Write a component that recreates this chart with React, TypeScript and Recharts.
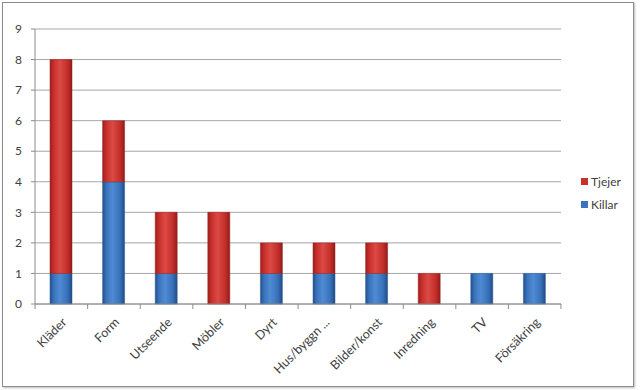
import React from 'react';
import { BarChart, Bar, XAxis, YAxis, CartesianGrid } from 'recharts';

const categories = ['Kläder', 'Form', 'Utseende', 'Möbler', 'Dyrt', 'Hus/byggn ...', 'Bilder/konst', 'Inredning', 'TV', 'Försäkring'];
const killar = [1, 4, 1, 0, 1, 1, 1, 0, 1, 1];
const tjejer = [7, 2, 2, 3, 1, 1, 1, 1, 0, 0];
const yTicks = [0, 1, 2, 3, 4, 5, 6, 7, 8, 9];

const data = categories.map((c, i) => ({ name: c, Killar: killar[i], Tjejer: tjejer[i] }));

const FONT = 'Lato, "Open Sans", sans-serif';
const BAND = 52.5;

const XTick = (props: any) => {
  const { x, y, payload, index, visibleTicksCount } = props;
  const y0 = y - 8;
  return (
    <g>
      <line x1={x - BAND / 2} x2={x - BAND / 2} y1={y0} y2={y0 + 5} stroke="#8c8c8c" />
      {index === visibleTicksCount - 1 && (
        <line x1={x + BAND / 2} x2={x + BAND / 2} y1={y0} y2={y0 + 5} stroke="#8c8c8c" />
      )}
      <text
        x={0}
        y={0}
        transform={`translate(${x + 3},${y + 8}) rotate(-45)`}
        textAnchor="end"
        dy="0.35em"
        fontSize={12.5}
        fontFamily={FONT}
        fill="#404040"
      >
        {payload.value}
      </text>
    </g>
  );
};

export default function App() {
  return (
    <div style={{ position: 'absolute', left: 0, top: 0, width: 640, height: 390, background: '#fff' }}>
      <div
        style={{
          position: 'absolute',
          left: 2,
          top: 2,
          width: 630,
          height: 383,
          border: '1px solid #8c8c8c',
          boxShadow: '1px 1px 2px #bbb',
        }}
      />
      <div style={{ position: 'absolute', left: 0, top: 0 }}>
        <BarChart width={640} height={390} data={data} margin={{ top: 29, right: 79, bottom: 0, left: 0 }} barSize={22}>
          <defs>
            <linearGradient id="gRed" x1="0" y1="0" x2="1" y2="0">
              <stop offset="0%" stopColor="#9e1f1c" />
              <stop offset="18%" stopColor="#c9302c" />
              <stop offset="45%" stopColor="#dc4a45" />
              <stop offset="80%" stopColor="#c22e2a" />
              <stop offset="100%" stopColor="#921b18" />
            </linearGradient>
            <linearGradient id="gBlue" x1="0" y1="0" x2="1" y2="0">
              <stop offset="0%" stopColor="#22518e" />
              <stop offset="18%" stopColor="#3b74bd" />
              <stop offset="45%" stopColor="#4f8bd3" />
              <stop offset="80%" stopColor="#3670b8" />
              <stop offset="100%" stopColor="#1f4b85" />
            </linearGradient>
          </defs>
          <CartesianGrid vertical={false} stroke="#a6a6a6" strokeWidth={1} />
          <XAxis
            dataKey="name"
            height={86}
            interval={0}
            tickLine={false}
            axisLine={{ stroke: '#8c8c8c' }}
            tick={<XTick />}
          />
          <YAxis
            width={35}
            domain={[0, 9]}
            ticks={yTicks}
            interval={0}
            tickSize={4}
            tickMargin={9}
            axisLine={{ stroke: '#8c8c8c' }}
            tickLine={{ stroke: '#8c8c8c' }}
            tick={{ fontSize: 12, fontFamily: FONT, fill: '#404040' }}
          />
          <Bar dataKey="Killar" stackId="a" fill="url(#gBlue)" stroke="#2a5a95" strokeWidth={0.5} isAnimationActive={false} />
          <Bar dataKey="Tjejer" stackId="a" fill="url(#gRed)" stroke="#9a211e" strokeWidth={0.5} isAnimationActive={false} />
        </BarChart>
      </div>
      <div style={{ position: 'absolute', left: 581, top: 170, fontFamily: FONT, fontSize: 12, color: '#404040', lineHeight: '23px' }}>
        <div style={{ display: 'flex', alignItems: 'center' }}>
          <span style={{ display: 'inline-block', width: 7, height: 7, background: '#c9302c', marginRight: 3 }} />
          Tjejer
        </div>
        <div style={{ display: 'flex', alignItems: 'center' }}>
          <span style={{ display: 'inline-block', width: 7, height: 7, background: '#3b74bd', marginRight: 3 }} />
          Killar
        </div>
      </div>
    </div>
  );
}
